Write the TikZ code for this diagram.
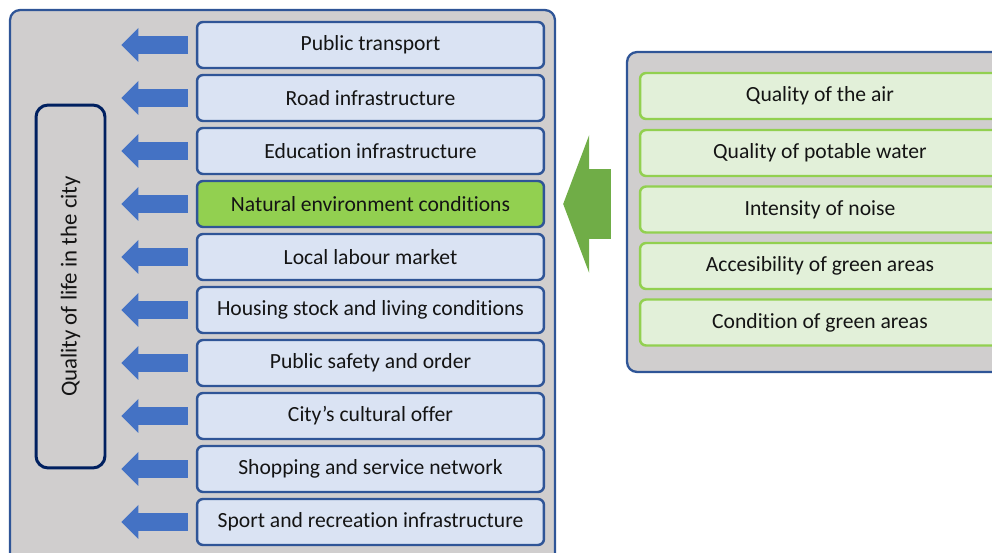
\documentclass[tikz,border=0pt]{standalone}
\usepackage{fontspec}
\setmainfont{Carlito}[Ligatures = NoCommon]
\usetikzlibrary{arrows.meta,positioning}

\definecolor{panelgray}{HTML}{D0CECE}
\definecolor{paneledge}{HTML}{2F5597}
\definecolor{boxblue}{HTML}{DAE3F3}
\definecolor{arrowblue}{HTML}{4472C4}
\definecolor{hilite}{HTML}{92D050}
\definecolor{boxgreen}{HTML}{E2F0D9}
\definecolor{arrowgreen}{HTML}{70AD47}
\definecolor{navy}{HTML}{002060}
\definecolor{txt}{HTML}{141414}

\begin{document}
\begin{tikzpicture}[
    x = 0.02cm, y = -0.02cm, % 1 unit = 1 pixel of the layout
    font = \fontsize{12.3}{14}\selectfont,
    text = txt
    ]
\tikzset{
    panel/.style = {draw = paneledge, line width = 1.3pt, fill = panelgray,
        rounded corners = 0.2cm},
    factor/.style = {draw = paneledge, line width = 1.4pt, fill = boxblue,
        rounded corners = 0.12cm, minimum width = 6.94cm, minimum height = 0.92cm},
    subfactor/.style = {draw = hilite, line width = 1.4pt, fill = boxgreen,
        rounded corners = 0.12cm, minimum width = 7.2cm, minimum height = 0.92cm},
    bluearrow/.style = {color = arrowblue, line width = 0.36cm,
        -{Triangle[length = 0.34cm, width = 0.68cm, line width = 0pt]},
        shorten < = 0.16cm, shorten > = 0.3cm},
    greenarrow/.style = {color = arrowgreen, line width = 1.4cm,
        -{Triangle[length = 0.52cm, width = 2.76cm, line width = 0pt]},
        shorten < = 0.3cm, shorten > = 0.36cm}
    }
\useasboundingbox (0,0) rectangle (992,553);

    % the two grey panels
    \node[panel, minimum width = 10.9cm, minimum height = 11.1cm] (city) at (282.5,287.5) {};
    \node[panel, minimum width = 7.56cm, minimum height = 6.4cm] (nature) at (816,212) {};

    % quality of life
    \node[draw = navy, line width = 1.7pt, rounded corners = 0.24cm,
        font = \fontsize{13}{15}\selectfont,
        minimum width = 7.26cm, minimum height = 1.38cm, rotate = 90] (q) at (70.5,286.5)
        {Quality of life in the city};

    % factors
    \node[factor] (pt) at (370.5,45) {Public transport};
    \node[factor] (ri) at (370.5,98) {Road infrastructure};
    \node[factor] (ei) at (370.5,151) {Education infrastructure};
    \node[factor, fill = hilite] (ne) at (370.5,204) {Natural environment conditions};
    \node[factor] (lm) at (370.5,257) {Local labour market};
    \node[factor] (hs) at (370.5,310) {Housing stock and living conditions};
    \node[factor] (ps) at (370.5,363) {Public safety and order};
    \node[factor] (co) at (370.5,416) {City’s cultural offer};
    \node[factor] (sh) at (370.5,469) {Shopping and service network};
    \node[factor] (sr) at (370.5,522) {Sport and recreation infrastructure};

    % components of the natural environment
    \node[subfactor] (air) at (820,96) {Quality of the air};
    \node[subfactor] (wat) at (820,153) {Quality of potable water};
    \node[subfactor] (noi) at (820,209.5) {Intensity of noise};
    \node[subfactor] (acc) at (820,266) {Accesibility of green areas};
    \node[subfactor] (con) at (820,322.5) {Condition of green areas};

    \path[bluearrow] (pt) edge (q.south |- pt);
    \path[bluearrow] (ri) edge (q.south |- ri);
    \path[bluearrow] (ei) edge (q.south |- ei);
    \path[bluearrow] (ne) edge (q.south |- ne);
    \path[bluearrow] (lm) edge (q.south |- lm);
    \path[bluearrow] (hs) edge (q.south |- hs);
    \path[bluearrow] (ps) edge (q.south |- ps);
    \path[bluearrow] (co) edge (q.south |- co);
    \path[bluearrow] (sh) edge (q.south |- sh);
    \path[bluearrow] (sr) edge (q.south |- sr);
    \path[greenarrow] (nature.west |- ne) edge (ne);
\end{tikzpicture}
\end{document}
